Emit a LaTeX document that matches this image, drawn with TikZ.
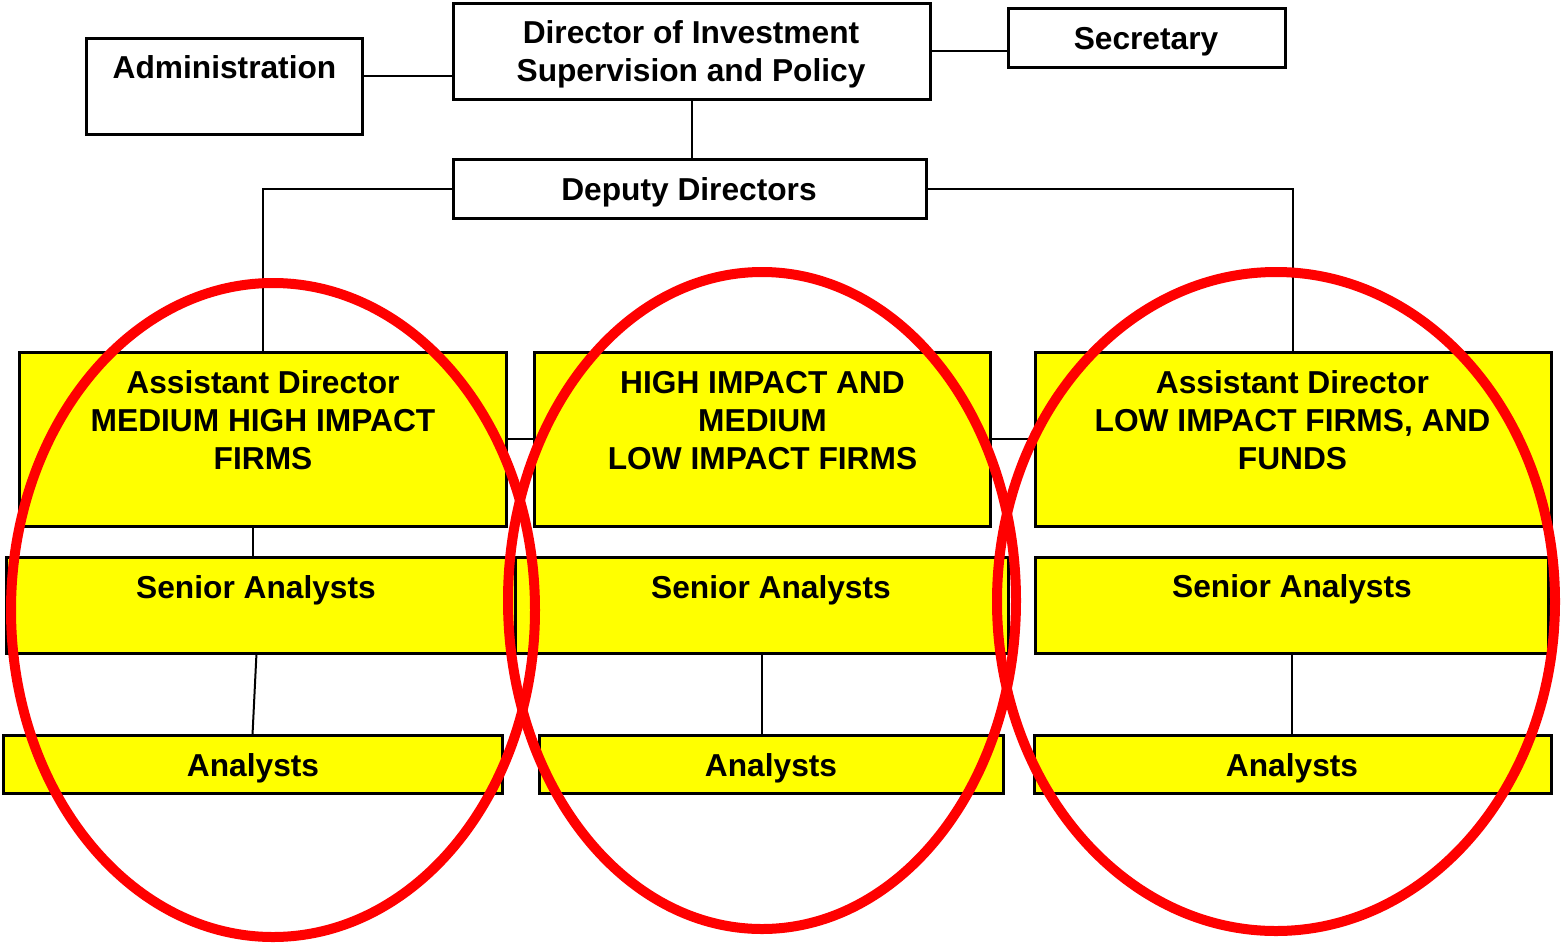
\documentclass[tikz,border=0pt]{standalone}
\usepackage{fontspec}
\setmainfont{Liberation Sans}
\definecolor{yel}{HTML}{FFFF00}
\definecolor{ringred}{HTML}{FF0000}
\begin{document}
\begin{tikzpicture}[x=1pt,y=-1pt,
  box/.style={draw=black, line width=3pt, fill=white, inner sep=0pt, outer sep=0pt},
  ybox/.style={box, fill=yel},
  lbl/.style={font=\bfseries\fontsize{31.7}{38}\selectfont, align=center, inner sep=0pt},
  link/.style={draw=black, line width=2pt},
  ring/.style={draw=ringred, line width=10pt}]
\useasboundingbox (0,0) rectangle (1561,943);
\fill[white] (0,0) rectangle (1561,943);

% top boxes
\node[box, minimum width=276pt, minimum height=96pt] (admin) at (224,86) {};
\node[box, minimum width=477pt, minimum height=96pt] (director) at (691.5,51) {};
\node[box, minimum width=277pt, minimum height=59pt] (secretary) at (1146.5,37.5) {};
\node[box, minimum width=473pt, minimum height=59pt] (deputy) at (689.5,188.5) {};

% assistant directors
\node[ybox, minimum width=487pt, minimum height=174pt] (adl) at (262.5,439) {};
\node[ybox, minimum width=456pt, minimum height=174pt] (adm) at (762,439) {};
\node[ybox, minimum width=516pt, minimum height=174pt] (adr) at (1293,439) {};

% senior analysts
\node[ybox, minimum width=509pt, minimum height=96pt] (sl) at (260.5,605) {};
\node[ybox, minimum width=493pt, minimum height=96pt] (sm) at (761.5,605) {};
\node[ybox, minimum width=513pt, minimum height=96pt] (sr) at (1291.5,605) {};

% analysts
\node[ybox, minimum width=499pt, minimum height=58pt] (al) at (252.5,764) {};
\node[ybox, minimum width=464pt, minimum height=58pt] (am) at (771,764) {};
\node[ybox, minimum width=517pt, minimum height=58pt] (ar) at (1292.5,764) {};

% labels
\node[lbl, anchor=base] (tadmin) at (224.5,78.4) {Administration};
\node[lbl] (tdirector) at (691,54.3) {Director of Investment\\Supervision and Policy};
\node[lbl, anchor=base] (tsecretary) at (1146,49.4) {Secretary};
\node[lbl, anchor=base] (tdeputy) at (689,200.4) {Deputy Directors};
\node[lbl] (tadl) at (263,420) {Assistant Director\\MEDIUM HIGH IMPACT\\FIRMS};
\node[lbl] (tadm) at (762.5,420.5) {HIGH IMPACT AND\\MEDIUM\\LOW IMPACT FIRMS};
\node[lbl] (tadr) at (1292.5,420) {Assistant Director\\LOW IMPACT FIRMS, AND\\FUNDS};
\node[lbl, anchor=base] (tsl) at (256,598.4) {Senior Analysts};
\node[lbl, anchor=base] (tsm) at (771,598.4) {Senior Analysts};
\node[lbl, anchor=base] (tsr) at (1292,597.4) {Senior Analysts};
\node[lbl, anchor=base] (tal) at (253,776.4) {Analysts};
\node[lbl, anchor=base] (tam) at (771,776.4) {Analysts};
\node[lbl, anchor=base] (tar) at (1292,776.4) {Analysts};

% connectors
\draw[link] ([yshift=10pt]admin.east) coordinate (a1) -- (a1 -| director.west);
\draw[link] (director.east) -- (director.east -| secretary.west);
\draw[link] (director.south) -- (director.south |- deputy.north);
\draw[link] (deputy.west) -| (adl.north);
\draw[link] (deputy.east) -| (adr.north);
\draw[link] (adl.east) -- (adm.west);
\draw[link] (adm.east) -- (adr.west);
\draw[link] ([xshift=-10pt]adl.south) coordinate (b1) -- (b1 |- sl.north);
\draw[link] ([xshift=-4pt]sl.south) -- (al.north);
\draw[link] (sm.south) -- (sm.south |- am.north);
\draw[link] (sr.south) -- (sr.south |- ar.north);

% red rings
\draw[ring] (273,610) ellipse [x radius=262pt, y radius=327pt];
\draw[ring] (762,600.5) ellipse [x radius=254pt, y radius=328.5pt];
\draw[ring] (1276,601.5) ellipse [x radius=279pt, y radius=329.5pt];
\end{tikzpicture}
\end{document}
